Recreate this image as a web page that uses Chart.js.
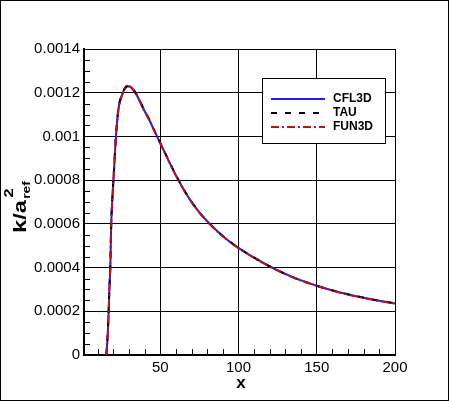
<!DOCTYPE html>
<html>
<head>
<meta charset="utf-8">
<script src="https://cdn.jsdelivr.net/npm/chart.js@4.4.0/dist/chart.umd.min.js"></script>
<style>
html,body{margin:0;padding:0;background:#fff;}
</style>
</head>
<body>
<canvas id="myChart" width="450" height="401"></canvas>
<script>
// data
let xs = [15.6, 16.5, 17, 17.5, 18.1, 18.7, 19.6, 20.5, 21.7, 23.4, 25.6, 27.5, 29.5, 31, 33, 36, 39, 42.5, 46, 50,
          55, 60, 67, 75, 84, 92, 100, 110, 122, 135, 150, 165, 180, 190, 200];
let cfl3d = [0, 0.0001, 0.00019, 0.0003, 0.0004, 0.0006, 0.00074, 0.00085, 0.001, 0.00113, 0.00119, 0.00122, 0.00123,
             0.001228, 0.001212, 0.001176, 0.00113, 0.001083, 0.00103, 0.00097, 0.000895, 0.000822, 0.000733, 0.000652,
             0.000583, 0.000532, 0.00049, 0.000445, 0.000398, 0.000355, 0.000317, 0.000286, 0.000262, 0.000248, 0.000236];
let tau = [0, 0.000105, 0.000195, 0.000305, 0.000405, 0.000602, 0.000742, 0.000852, 0.001002, 0.001132, 0.001192, 0.001222, 0.001232,
           0.00123, 0.001214, 0.001178, 0.001132, 0.001085, 0.001031, 0.000971, 0.000896, 0.000823, 0.000734, 0.000653,
           0.000584, 0.000533, 0.00049, 0.000445, 0.000398, 0.000355, 0.000317, 0.000286, 0.000262, 0.000248, 0.000236];
let fun3d = [0, 0.000098, 0.000188, 0.000298, 0.000398, 0.000598, 0.000738, 0.000848, 0.000998, 0.001128, 0.001188, 0.001218, 0.001228,
             0.001226, 0.00121, 0.001175, 0.001129, 0.001082, 0.001029, 0.000969, 0.000894, 0.000821, 0.000732, 0.000651,
             0.000582, 0.000531, 0.000489, 0.000444, 0.000397, 0.000354, 0.000316, 0.000285, 0.000261, 0.000247, 0.000235];
let xTicks = [50, 100, 150, 200];
let xMinor = [10, 20, 30, 40, 60, 70, 80, 90, 110, 120, 130, 140, 160, 170, 180, 190];
let yTicks = [0, 0.0002, 0.0004, 0.0006, 0.0008, 0.001, 0.0012, 0.0014];
let yTickLabels = ['0', '0.0002', '0.0004', '0.0006', '0.0008', '0.001', '0.0012', '0.0014'];
let seriesNames = ['CFL3D', 'TAU', 'FUN3D'];
let seriesColors = ['#2020e0', '#000000', '#c0101a'];
let seriesDash = [[], [6, 8], [8, 3, 2, 3]];

function pts(ys){
  let out = [];
  for (var i = 0; i < xs.length; i++) out.push({x: xs[i], y: ys[i]});
  return out;
}

let yMinor = [];
for (var k = 1; k < 28; k++) { if (k % 4 != 0) yMinor.push(k * 0.00005); }

const extras = {
  id: 'extras',
  afterDraw(chart){
    let ctx = chart.ctx;
    let sx = chart.scales.x, sy = chart.scales.y;
    let a = chart.chartArea;
    ctx.save();
    // minor ticks
    ctx.strokeStyle = '#000';
    ctx.lineWidth = 1;
    ctx.beginPath();
    xMinor.forEach(v => {
      let p = Math.round(sx.getPixelForValue(v)) + 0.5;
      ctx.moveTo(p, a.bottom); ctx.lineTo(p, a.bottom - 6);
    });
    yMinor.forEach(v => {
      let p = Math.round(sy.getPixelForValue(v)) + 0.5;
      ctx.moveTo(a.left, p); ctx.lineTo(a.left + 6, p);
    });
    ctx.stroke();

    // y title  k/a_ref^2
    ctx.save();
    ctx.translate(26, 233);
    ctx.rotate(-Math.PI / 2);
    ctx.scale(1.25, 1);
    ctx.fillStyle = '#000';
    ctx.textBaseline = 'alphabetic';
    ctx.textAlign = 'left';
    ctx.font = 'bold 19px "Liberation Sans", Arial, sans-serif';
    ctx.fillText('k/a', 0, 0);
    let w = ctx.measureText('k/a').width;
    ctx.font = 'bold 11px "Liberation Sans", Arial, sans-serif';
    ctx.fillText('ref', w + 1, 4);
    ctx.font = 'bold 13px "Liberation Sans", Arial, sans-serif';
    ctx.fillText('2', w + 2, -13);
    ctx.restore();

    // x title
    ctx.fillStyle = '#000';
    ctx.font = 'bold 17px "Liberation Sans", Arial, sans-serif';
    ctx.textAlign = 'center';
    ctx.textBaseline = 'alphabetic';
    ctx.fillText('x', 241, 388);

    // legend
    ctx.fillStyle = '#fff';
    ctx.fillRect(262, 78, 123, 65);
    ctx.strokeStyle = '#000';
    ctx.lineWidth = 1;
    ctx.strokeRect(262.5, 78.5, 123, 65);
    ctx.font = 'bold 12px "Liberation Sans", Arial, sans-serif';
    ctx.textAlign = 'left';
    ctx.textBaseline = 'middle';
    for (var i = 0; i < seriesNames.length; i++) {
      let yy = 99 + i * 14;
      ctx.beginPath();
      ctx.setLineDash(seriesDash[i]);
      ctx.strokeStyle = seriesColors[i];
      ctx.lineWidth = 2;
      ctx.moveTo(271, yy); ctx.lineTo(325, yy);
      ctx.stroke();
      ctx.setLineDash([]);
      ctx.fillStyle = '#000';
      ctx.fillText(seriesNames[i], 333, yy);
    }

    // picture frame
    ctx.strokeStyle = '#000';
    ctx.lineWidth = 1;
    ctx.strokeRect(0.5, 0.5, 448, 400);
    ctx.restore();
  }
};

let ctx = document.getElementById('myChart').getContext('2d');
let chart = new Chart(ctx, {
  type: 'scatter',
  data: {
    datasets: seriesNames.map((n, i) => ({
      label: n,
      data: pts([cfl3d, tau, fun3d][i]),
      showLine: true,
      borderColor: seriesColors[i],
      backgroundColor: seriesColors[i],
      borderWidth: 2,
      borderDash: seriesDash[i],
      pointRadius: 0,
      cubicInterpolationMode: 'monotone',
      order: 2 - i
    }))
  },
  options: {
    responsive: false,
    animation: false,
    devicePixelRatio: 1,
    layout: {padding: {left: 0, right: 55, top: 49, bottom: 0}},
    plugins: {legend: {display: false}, tooltip: {enabled: false}},
    scales: {
      x: {
        type: 'linear', min: 1.3, max: 200,
        afterBuildTicks: s => { s.ticks = xTicks.map(v => ({value: v})); },
        afterFit: s => { s.height = 46; },
        ticks: {
          color: '#000', padding: 4, maxRotation: 0, autoSkip: false,
          font: {family: '"Liberation Sans", Arial, sans-serif', size: 15},
          callback: v => String(v)
        },
        grid: {color: '#000', lineWidth: 1, drawTicks: false},
        border: {color: '#000', width: 2}
      },
      y: {
        type: 'linear', min: 0, max: 0.0014,
        afterBuildTicks: s => { s.ticks = yTicks.map(v => ({value: v})); },
        afterFit: s => { s.width = 84; },
        ticks: {
          color: '#000', padding: 4, autoSkip: false,
          font: {family: '"Liberation Sans", Arial, sans-serif', size: 15},
          callback: (v, i) => yTickLabels[i]
        },
        grid: {color: '#000', lineWidth: 1, drawTicks: false},
        border: {color: '#000', width: 2}
      }
    }
  },
  plugins: [extras]
});
</script>
</body>
</html>
